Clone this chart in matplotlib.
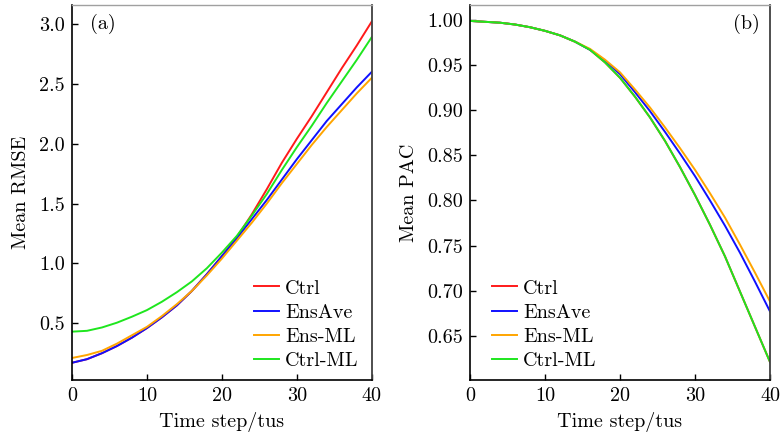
import numpy as np
import matplotlib
matplotlib.use("Agg")
import matplotlib.pyplot as plt
from matplotlib.ticker import FormatStrFormatter

## Data (every 2 time steps)
steps = list(range(0, 41, 2))
labels = ["Ctrl", "EnsAve", "Ens-ML", "Ctrl-ML"]
colors = ["#ff1a1a", "#1010ff", "#ffa500", "#1ee61e"]

rmse_ctrl = [0.17, 0.20, 0.25, 0.31, 0.38, 0.46, 0.55, 0.65, 0.77, 0.91, 1.06,
             1.22, 1.41, 1.62, 1.84, 2.04, 2.23, 2.43, 2.63, 2.82, 3.02]
rmse_ensave = [0.17, 0.20, 0.25, 0.31, 0.38, 0.46, 0.55, 0.65, 0.77, 0.91, 1.06,
               1.21, 1.37, 1.53, 1.70, 1.87, 2.03, 2.19, 2.33, 2.47, 2.60]
rmse_ensml = [0.21, 0.235, 0.27, 0.33, 0.40, 0.47, 0.56, 0.66, 0.77, 0.90, 1.04,
              1.19, 1.34, 1.50, 1.67, 1.83, 1.99, 2.14, 2.28, 2.42, 2.55]
rmse_ctrlml = [0.43, 0.437, 0.465, 0.505, 0.555, 0.61, 0.68, 0.76, 0.85, 0.96, 1.09,
               1.23, 1.40, 1.58, 1.78, 1.97, 2.15, 2.34, 2.52, 2.70, 2.89]

pac_ctrl = [0.999, 0.998, 0.997, 0.995, 0.992, 0.988, 0.983, 0.976, 0.967, 0.953, 0.936,
            0.915, 0.892, 0.866, 0.837, 0.806, 0.773, 0.738, 0.699, 0.660, 0.621]
pac_ensave = [0.999, 0.998, 0.997, 0.995, 0.992, 0.988, 0.983, 0.976, 0.967, 0.955, 0.940,
              0.920, 0.899, 0.876, 0.852, 0.827, 0.800, 0.772, 0.742, 0.710, 0.677]
pac_ensml = [0.999, 0.998, 0.997, 0.995, 0.992, 0.988, 0.983, 0.976, 0.968, 0.956, 0.942,
             0.923, 0.903, 0.881, 0.858, 0.834, 0.808, 0.781, 0.751, 0.720, 0.688]
pac_ctrlml = [0.999, 0.998, 0.997, 0.995, 0.992, 0.988, 0.983, 0.976, 0.967, 0.953, 0.936,
              0.915, 0.892, 0.866, 0.837, 0.806, 0.773, 0.738, 0.699, 0.660, 0.621]

plt.rcParams['font.family'] = 'serif'
plt.rcParams['font.serif'] = ['cmr10', 'DejaVu Serif']
plt.rcParams['axes.unicode_minus'] = False
plt.rcParams['font.size'] = 14.5

fig = plt.figure(figsize=(7.81, 4.41), dpi=100)
ax1 = fig.add_axes([0.0922, 0.1383, 0.3837, 0.8503])
ax2 = fig.add_axes([0.6018, 0.1383, 0.3841, 0.8503])


def style(ax):
    for side in ['left', 'bottom']:
        ax.spines[side].set_color('black')
        ax.spines[side].set_linewidth(1.2)
    ax.spines['top'].set_color('#a0a0a0')
    ax.spines['top'].set_linewidth(1.0)
    ax.spines['right'].set_color('#404040')
    ax.spines['right'].set_linewidth(1.3)
    ax.tick_params(direction='in', length=4, width=1.0, top=False, right=False,
                   labelsize=14.5, pad=5)
    ax.set_xlim(0, 40)
    ax.set_xticks([0, 10, 20, 30, 40])
    ax.set_xlabel("Time step/tus", labelpad=5)


## (a) RMSE
for vals, lab, col in zip([rmse_ctrl, rmse_ensave, rmse_ensml, rmse_ctrlml], labels, colors):
    ax1.plot(steps, vals, color=col, lw=1.4, label=lab)
style(ax1)
ax1.set_ylim(0.026, 3.159)
ax1.set_yticks([0.5, 1.0, 1.5, 2.0, 2.5, 3.0])
ax1.yaxis.set_major_formatter(FormatStrFormatter('%.1f'))
ax1.set_ylabel("Mean RMSE", labelpad=7)
ax1.text(0.06, 0.95, "(a)", transform=ax1.transAxes, ha='left', va='center')
ax1.legend(loc='lower right', frameon=False, handlelength=1.25, handletextpad=0.3,
           labelspacing=0.3, borderaxespad=0.1, bbox_to_anchor=(0.99, 0.0))

## (b) PAC
for vals, lab, col in zip([pac_ctrl, pac_ensave, pac_ensml, pac_ctrlml], labels, colors):
    ax2.plot(steps, vals, color=col, lw=1.4, label=lab)
style(ax2)
ax2.set_ylim(0.601, 1.0166)
ax2.set_yticks([0.65, 0.70, 0.75, 0.80, 0.85, 0.90, 0.95, 1.00])
ax2.yaxis.set_major_formatter(FormatStrFormatter('%.2f'))
ax2.set_ylabel("Mean PAC", labelpad=7)
ax2.text(0.965, 0.95, "(b)", transform=ax2.transAxes, ha='right', va='center')
ax2.legend(loc='lower left', frameon=False, handlelength=1.25, handletextpad=0.3,
           labelspacing=0.3, borderaxespad=0.1, bbox_to_anchor=(0.04, 0.0))

fig.savefig("out.png", dpi=100)
